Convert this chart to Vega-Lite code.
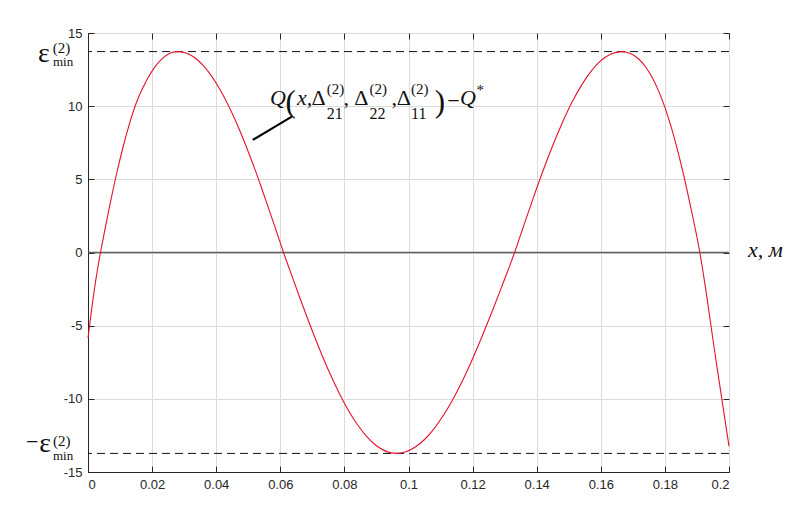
{
  "$schema": "https://vega.github.io/schema/vega-lite/v6.json",
  "width": 641,
  "height": 439,
  "autosize": "none",
  "padding": {"left": 88, "top": 33, "right": 79, "bottom": 58},
  "background": "white",
  "config": {
    "view": {"stroke": "#262626", "strokeWidth": 1},
    "axis": {
      "labelFont": "Liberation Sans",
      "labelFontSize": 13,
      "labelColor": "#262626",
      "domainColor": "#262626",
      "tickColor": "#262626",
      "gridColor": "#dcdcdc",
      "gridWidth": 1,
      "title": null
    }
  },
  "resolve": {"axis": {"x": "independent", "y": "independent"}},
  "layer": [
    {
      "data": {"values": [{"y": 0}]},
      "mark": {"type": "rule", "color": "#5f5f5f", "strokeWidth": 1.6},
      "encoding": {"y": {"field": "y", "type": "quantitative", "axis": null}}
    },
    {
      "data": {"values": [{"y": 13.73}, {"y": -13.73}]},
      "mark": {"type": "rule", "color": "#111111", "strokeWidth": 1, "strokeDash": [8, 5]},
      "encoding": {"y": {"field": "y", "type": "quantitative", "axis": null}}
    },
    {
      "data": {"values": [
        {"x": 0, "y": -5.84}, {"x": 0.001, "y": -4.09}, {"x": 0.002, "y": -2.51}, {"x": 0.003, "y": -1.11},
        {"x": 0.0039, "y": 0}, {"x": 0.005, "y": 1.25}, {"x": 0.007, "y": 3.44}, {"x": 0.009, "y": 5.45},
        {"x": 0.011, "y": 7.26}, {"x": 0.013, "y": 8.84}, {"x": 0.015, "y": 10.18}, {"x": 0.017, "y": 11.2},
        {"x": 0.019, "y": 12.05}, {"x": 0.021, "y": 12.72}, {"x": 0.023, "y": 13.22}, {"x": 0.025, "y": 13.55},
        {"x": 0.0265, "y": 13.68}, {"x": 0.0281, "y": 13.73}, {"x": 0.03, "y": 13.67}, {"x": 0.032, "y": 13.49},
        {"x": 0.034, "y": 13.19}, {"x": 0.036, "y": 12.77}, {"x": 0.038, "y": 12.22}, {"x": 0.04, "y": 11.57},
        {"x": 0.042, "y": 10.82}, {"x": 0.044, "y": 9.96}, {"x": 0.046, "y": 9.02}, {"x": 0.048, "y": 7.99},
        {"x": 0.05, "y": 6.88}, {"x": 0.052, "y": 5.73}, {"x": 0.054, "y": 4.51}, {"x": 0.056, "y": 3.24},
        {"x": 0.058, "y": 1.96}, {"x": 0.06, "y": 0.66}, {"x": 0.061, "y": 0}, {"x": 0.063, "y": -1.22},
        {"x": 0.066, "y": -3.04}, {"x": 0.069, "y": -4.8}, {"x": 0.072, "y": -6.47}, {"x": 0.075, "y": -8.03},
        {"x": 0.078, "y": -9.44}, {"x": 0.081, "y": -10.69}, {"x": 0.084, "y": -11.74}, {"x": 0.087, "y": -12.59},
        {"x": 0.09, "y": -13.21}, {"x": 0.093, "y": -13.59}, {"x": 0.0962, "y": -13.73}, {"x": 0.099, "y": -13.63},
        {"x": 0.102, "y": -13.31}, {"x": 0.105, "y": -12.78}, {"x": 0.108, "y": -12.03}, {"x": 0.111, "y": -11.09},
        {"x": 0.114, "y": -9.97}, {"x": 0.117, "y": -8.69}, {"x": 0.12, "y": -7.26}, {"x": 0.123, "y": -5.71},
        {"x": 0.126, "y": -4.08}, {"x": 0.129, "y": -2.38}, {"x": 0.1331, "y": 0}, {"x": 0.136, "y": 1.87},
        {"x": 0.139, "y": 3.77}, {"x": 0.142, "y": 5.6}, {"x": 0.145, "y": 7.31}, {"x": 0.148, "y": 8.87},
        {"x": 0.151, "y": 10.26}, {"x": 0.154, "y": 11.44}, {"x": 0.157, "y": 12.4}, {"x": 0.16, "y": 13.11},
        {"x": 0.163, "y": 13.55}, {"x": 0.1664, "y": 13.73}, {"x": 0.168, "y": 13.69}, {"x": 0.17, "y": 13.52},
        {"x": 0.172, "y": 13.19}, {"x": 0.174, "y": 12.68}, {"x": 0.176, "y": 11.98}, {"x": 0.178, "y": 11.06},
        {"x": 0.18, "y": 9.92}, {"x": 0.182, "y": 8.55}, {"x": 0.184, "y": 6.95}, {"x": 0.186, "y": 5.15},
        {"x": 0.188, "y": 3.15}, {"x": 0.1909, "y": 0}, {"x": 0.193, "y": -2.9}, {"x": 0.195, "y": -5.96},
        {"x": 0.1965, "y": -8.18}, {"x": 0.1981, "y": -10.5}, {"x": 0.2, "y": -13.23}
      ]},
      "mark": {"type": "line", "color": "#e3122f", "strokeWidth": 1.1, "interpolate": "monotone"},
      "encoding": {
        "x": {"field": "x", "type": "quantitative",
          "scale": {"domain": [0, 0.2], "nice": false, "zero": false},
          "axis": {"orient": "bottom", "values": [0, 0.02, 0.04, 0.06, 0.08, 0.1, 0.12, 0.14, 0.16, 0.18, 0.2],
            "format": ".2~f", "grid": true, "tickSize": -6, "labelPadding": 12, "domain": true}},
        "y": {"field": "y", "type": "quantitative",
          "scale": {"domain": [-15, 15], "nice": false, "zero": false},
          "axis": {"orient": "left", "values": [-15, -10, -5, 0, 5, 10, 15],
            "labelExpr": "'' + datum.value", "grid": true, "tickSize": -6, "labelPadding": 12, "domain": true}}
      }
    },
    {
      "data": {"values": [{"x": 0.0514, "y": 7.69, "x2": 0.0636, "y2": 9.28}]},
      "mark": {"type": "rule", "color": "#000000", "strokeWidth": 2},
      "encoding": {
        "x": {"field": "x", "type": "quantitative",
          "axis": {"orient": "top", "values": [0, 0.02, 0.04, 0.06, 0.08, 0.1, 0.12, 0.14, 0.16, 0.18, 0.2],
            "labels": false, "grid": false, "domain": false, "tickSize": -6}},
        "y": {"field": "y", "type": "quantitative",
          "axis": {"orient": "right", "values": [-15, -10, -5, 0, 5, 10, 15],
            "labels": false, "grid": false, "domain": false, "tickSize": -6}},
        "x2": {"field": "x2"},
        "y2": {"field": "y2"}
      }
    },
    {
      "data": {"values": [
        {"t": "Q", "x": 0.0568, "y": 10.08},
        {"t": "x,", "x": 0.0652, "y": 10.08},
        {"t": "Q", "x": 0.1161, "y": 10.08},
        {"t": "x,  м", "x": 0.2059, "y": -0.31}
      ]},
      "mark": {"type": "text", "font": "Liberation Serif", "fontStyle": "italic", "fontSize": 22, "align": "left", "baseline": "alphabetic", "color": "#111111"},
      "encoding": {
        "x": {"field": "x", "type": "quantitative", "axis": null},
        "y": {"field": "y", "type": "quantitative", "axis": null},
        "text": {"field": "t"}
      }
    },
    {
      "data": {"values": [
        {"t": "Δ", "x": 0.0697, "y": 10.08},
        {"t": ",", "x": 0.0797, "y": 10.08},
        {"t": "Δ", "x": 0.0831, "y": 10.08},
        {"t": ",", "x": 0.0947, "y": 10.08},
        {"t": "Δ", "x": 0.0963, "y": 10.08},
        {"t": "−", "x": 0.1121, "y": 9.9},
        {"t": "−", "x": -0.01935, "y": -13.43}
      ]},
      "mark": {"type": "text", "font": "Liberation Serif", "fontSize": 22, "align": "left", "baseline": "alphabetic", "color": "#111111"},
      "encoding": {
        "x": {"field": "x", "type": "quantitative", "axis": null},
        "y": {"field": "y", "type": "quantitative", "axis": null},
        "text": {"field": "t"}
      }
    },
    {
      "data": {"values": [
        {"t": "(", "x": 0.0616, "y": 9.6},
        {"t": ")", "x": 0.1082, "y": 9.6}
      ]},
      "mark": {"type": "text", "font": "Liberation Serif", "fontSize": 31, "align": "left", "baseline": "alphabetic", "color": "#111111"},
      "encoding": {
        "x": {"field": "x", "type": "quantitative", "axis": null},
        "y": {"field": "y", "type": "quantitative", "axis": null},
        "text": {"field": "t"}
      }
    },
    {
      "data": {"values": [
        {"t": "(2)", "x": 0.0745, "y": 10.83},
        {"t": "(2)", "x": 0.0878, "y": 10.83},
        {"t": "(2)", "x": 0.1008, "y": 10.83},
        {"t": "*", "x": 0.1212, "y": 10.76},
        {"t": "(2)", "x": -0.01101, "y": 13.6},
        {"t": "(2)", "x": -0.01092, "y": -13.22}
      ]},
      "mark": {"type": "text", "font": "Liberation Serif", "fontSize": 15, "align": "left", "baseline": "alphabetic", "color": "#111111"},
      "encoding": {
        "x": {"field": "x", "type": "quantitative", "axis": null},
        "y": {"field": "y", "type": "quantitative", "axis": null},
        "text": {"field": "t"}
      }
    },
    {
      "data": {"values": [
        {"t": "21", "x": 0.0745, "y": 9.12},
        {"t": "22", "x": 0.0878, "y": 9.12},
        {"t": "11", "x": 0.1008, "y": 9.12}
      ]},
      "mark": {"type": "text", "font": "Liberation Serif", "fontSize": 16, "align": "left", "baseline": "alphabetic", "color": "#111111"},
      "encoding": {
        "x": {"field": "x", "type": "quantitative", "axis": null},
        "y": {"field": "y", "type": "quantitative", "axis": null},
        "text": {"field": "t"}
      }
    },
    {
      "data": {"values": [
        {"t": "ε", "x": -0.0156, "y": 13.0},
        {"t": "ε", "x": -0.0152, "y": -13.61}
      ]},
      "mark": {"type": "text", "font": "Liberation Serif", "fontSize": 28, "align": "left", "baseline": "alphabetic", "color": "#111111"},
      "encoding": {
        "x": {"field": "x", "type": "quantitative", "axis": null},
        "y": {"field": "y", "type": "quantitative", "axis": null},
        "text": {"field": "t"}
      }
    },
    {
      "data": {"values": [
        {"t": "min", "x": -0.01092, "y": 12.77},
        {"t": "min", "x": -0.01092, "y": -14.18}
      ]},
      "mark": {"type": "text", "font": "Liberation Serif", "fontSize": 13, "align": "left", "baseline": "alphabetic", "color": "#111111"},
      "encoding": {
        "x": {"field": "x", "type": "quantitative", "axis": null},
        "y": {"field": "y", "type": "quantitative", "axis": null},
        "text": {"field": "t"}
      }
    }
  ]
}
